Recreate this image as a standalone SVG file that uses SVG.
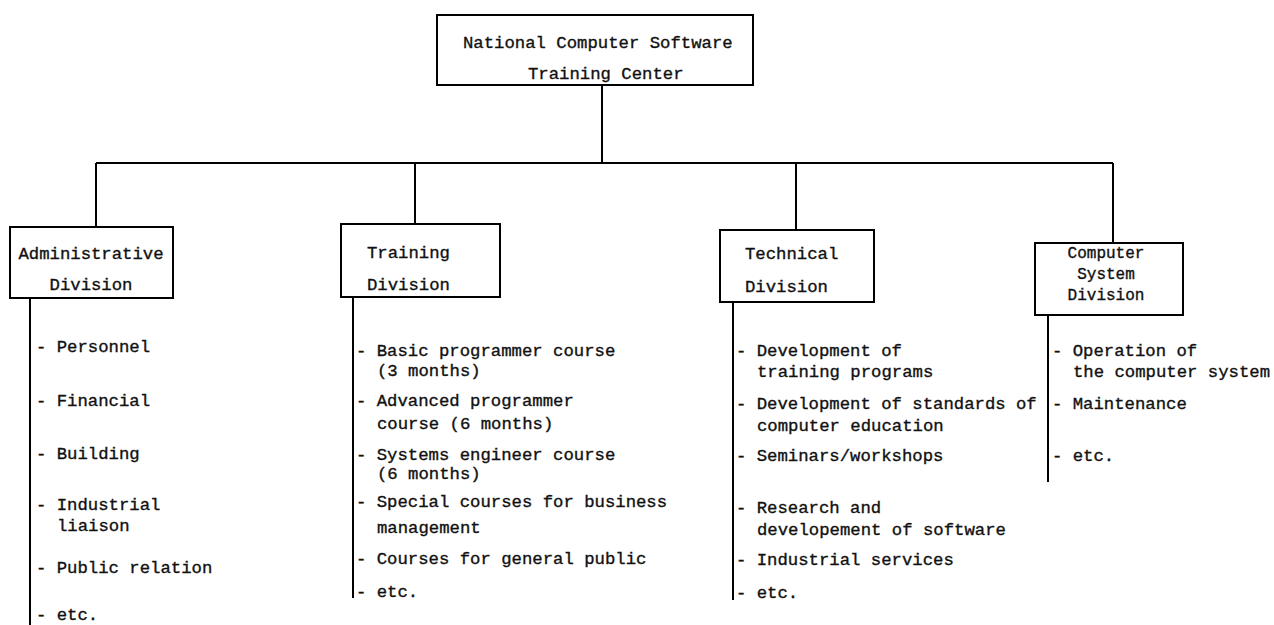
<svg xmlns="http://www.w3.org/2000/svg" width="1274" height="625" viewBox="0 0 1274 625">
<style>
  .bg{fill:#ffffff}
  .box{fill:none;stroke:#000;stroke-width:2}
  .ln{fill:none;stroke:#000;stroke-width:2}
  text{font-family:"Liberation Mono","DejaVu Sans Mono",monospace;font-size:17.3px;fill:#111;stroke:#111;stroke-width:0.35}
  .sm{font-size:16px}
  .mid{text-anchor:middle}
</style>
<rect class="bg" x="0" y="0" width="1274" height="625"/>

<g id="connectors">
  <path class="ln" d="M602 85 V163"/>
  <path class="ln" d="M96 163 H1113"/>
  <path class="ln" d="M96 163 V227"/>
  <path class="ln" d="M415 163 V224"/>
  <path class="ln" d="M796 163 V230"/>
  <path class="ln" d="M1113 163 V243"/>
  <path class="ln" d="M30 298 V625"/>
  <path class="ln" d="M353 297 V598"/>
  <path class="ln" d="M733 302 V600"/>
  <path class="ln" d="M1048 315 V482"/>
</g>

<g id="center">
  <rect class="box" x="437" y="15" width="316" height="70"/>
  <text x="463" y="48">National Computer Software</text>
  <text x="528" y="79">Training Center</text>
</g>

<g id="admin">
  <rect class="box" x="10" y="227" width="163" height="71"/>
  <text class="mid" x="91" y="259">Administrative</text>
  <text class="mid" x="91" y="290">Division</text>
  <text x="36" y="352">- Personnel</text>
  <text x="36" y="406">- Financial</text>
  <text x="36" y="459">- Building</text>
  <text x="36" y="510">- Industrial</text>
  <text x="57" y="531">liaison</text>
  <text x="36" y="573">- Public relation</text>
  <text x="36" y="620">- etc.</text>
</g>

<g id="training">
  <rect class="box" x="341" y="224" width="159" height="73"/>
  <text x="367" y="258">Training</text>
  <text x="367" y="290">Division</text>
  <text x="356" y="356">- Basic programmer course</text>
  <text x="377" y="376">(3 months)</text>
  <text x="356" y="406">- Advanced programmer</text>
  <text x="377" y="429">course (6 months)</text>
  <text x="356" y="460">- Systems engineer course</text>
  <text x="377" y="479">(6 months)</text>
  <text x="356" y="507">- Special courses for business</text>
  <text x="377" y="533">management</text>
  <text x="356" y="564">- Courses for general public</text>
  <text x="356" y="597">- etc.</text>
</g>

<g id="technical">
  <rect class="box" x="720" y="230" width="154" height="72"/>
  <text x="745" y="259">Technical</text>
  <text x="745" y="292">Division</text>
  <text x="736" y="356">- Development of</text>
  <text x="757" y="377">training programs</text>
  <text x="736" y="409">- Development of standards of</text>
  <text x="757" y="431">computer education</text>
  <text x="736" y="461">- Seminars/workshops</text>
  <text x="736" y="513">- Research and</text>
  <text x="757" y="535">developement of software</text>
  <text x="736" y="565">- Industrial services</text>
  <text x="736" y="598">- etc.</text>
</g>

<g id="computer">
  <rect class="box" x="1035" y="243" width="148" height="72"/>
  <text class="sm mid" x="1106" y="258">Computer</text>
  <text class="sm mid" x="1106" y="279">System</text>
  <text class="sm mid" x="1106" y="300">Division</text>
  <text x="1052" y="356">- Operation of</text>
  <text x="1073" y="377">the computer system</text>
  <text x="1052" y="409">- Maintenance</text>
  <text x="1052" y="461">- etc.</text>
</g>
</svg>
